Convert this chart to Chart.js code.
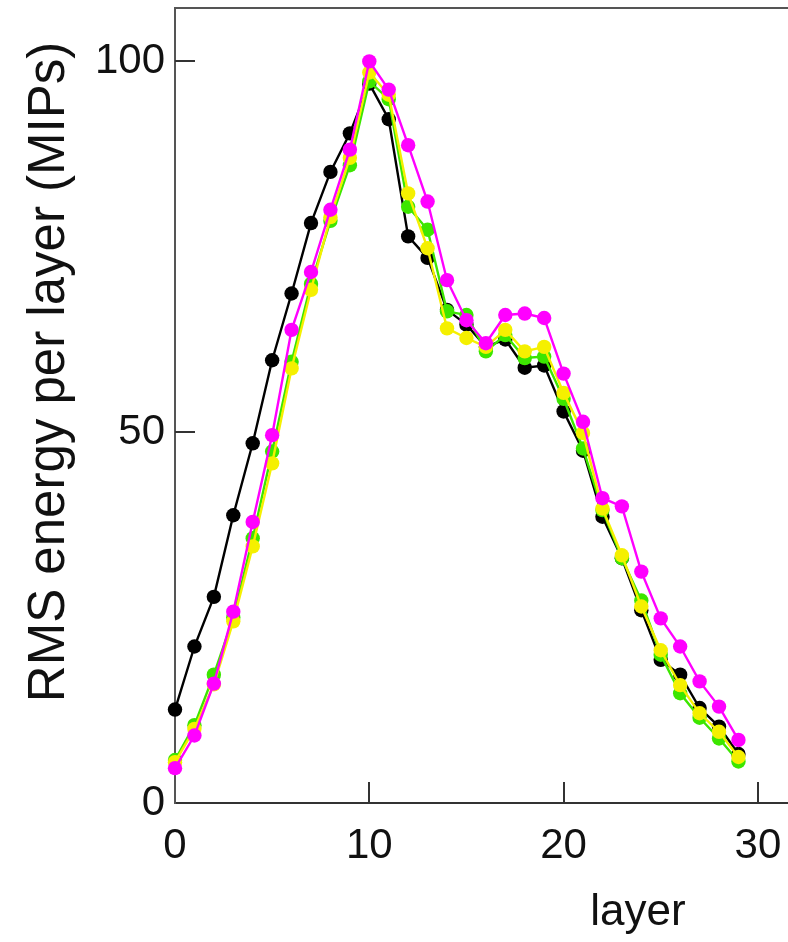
<!DOCTYPE html>
<html>
<head>
<meta charset="utf-8">
<script src="https://cdn.jsdelivr.net/npm/chart.js@4.4.1/dist/chart.umd.min.js"></script>
<style>
  html, body { margin: 0; padding: 0; background: #fff; }
  canvas { display: block; }
</style>
</head>
<body>
<canvas id="rmsChart" width="788" height="942"></canvas>
<script>
// layer numbers
const layers = [0, 1, 2, 3, 4, 5, 6, 7, 8, 9, 10, 11, 12, 13, 14, 15, 16, 17, 18, 19, 20, 21, 22, 23, 24, 25, 26, 27, 28, 29];

// RMS energy per layer (MIPs), one list per curve
const magentaVals = [4.7, 9.1, 16.1, 25.8, 37.9, 49.6, 63.8, 71.6, 80.0, 88.1, 100, 96.2, 88.7, 81.1, 70.5, 65.1, 62.0, 65.8, 66.0, 65.4, 57.9, 51.4, 41.1, 40.0, 31.2, 24.9, 21.1, 16.4, 13.0, 8.5];
const yellowVals = [5.5, 10.0, 16.0, 24.5, 34.6, 45.8, 58.6, 69.2, 79.0, 87.0, 98.5, 95.5, 82.2, 74.8, 64.0, 62.7, 61.5, 63.8, 60.9, 61.5, 55.3, 49.9, 39.7, 33.4, 26.5, 20.6, 15.9, 12.1, 9.6, 6.2];
const greenVals = [5.8, 10.5, 17.3, 25.0, 35.7, 47.4, 59.5, 70.0, 78.5, 86.0, 97.3, 94.9, 80.4, 77.3, 66.3, 65.8, 60.9, 63.1, 60.0, 60.2, 54.5, 47.8, 39.5, 33.0, 27.3, 20.0, 14.8, 11.5, 8.7, 5.6];
const blackVals = [12.6, 21.1, 27.8, 38.8, 48.5, 59.7, 68.7, 78.2, 85.1, 90.3, 97.0, 92.2, 76.4, 73.5, 66.5, 64.5, 61.5, 62.5, 58.7, 59.0, 52.8, 47.5, 38.6, 33.0, 26.0, 19.3, 17.3, 12.8, 10.3, 6.6];

const xTicks = [0, 10, 20, 30];
const yTicks = [0, 50, 100];
const xTitle = "layer";
const yTitle = "RMS energy per layer (MIPs)";

const FONT = "'Liberation Sans', Arial, Helvetica, sans-serif";

function toPoints(vals) {
    return vals.map((v, i) => ({ x: layers[i], y: v }));
}

function makeSet(vals, color) {
    return {
        data: toPoints(vals),
        borderColor: color,
        backgroundColor: color,
        pointBackgroundColor: color,
        pointBorderWidth: 0,
        pointRadius: 7.2,
        borderWidth: 2.4,
        tension: 0,
        clip: false
    };
}

// keep the plot box fixed: no extra room for edge labels
function noPad(s) {
    s.paddingTop = 0;
    s.paddingBottom = 0;
    s.paddingLeft = 0;
    s.paddingRight = 0;
}

// frame top line, inward ticks and the two axis titles
const framePlugin = {
    id: 'frame',
    afterDraw(chart) {
        const { ctx, chartArea, scales } = chart;
        ctx.save();
        ctx.strokeStyle = '#555';
        ctx.lineWidth = 2;
        ctx.beginPath();
        ctx.moveTo(chartArea.left - 1, chartArea.top);
        ctx.lineTo(chartArea.right, chartArea.top);
        ctx.stroke();

        ctx.strokeStyle = '#333';
        ctx.lineWidth = 2;
        ctx.beginPath();
        yTicks.slice(1).forEach(v => {
            const py = Math.round(scales.y.getPixelForValue(v));
            ctx.moveTo(chartArea.left, py);
            ctx.lineTo(chartArea.left + 20, py);
        });
        xTicks.slice(1).forEach(v => {
            const px = Math.round(scales.x.getPixelForValue(v));
            ctx.moveTo(px, chartArea.bottom);
            ctx.lineTo(px, chartArea.bottom - 21);
        });
        ctx.stroke();

        ctx.fillStyle = '#111';
        ctx.font = "44px " + FONT;
        ctx.textAlign = 'center';
        ctx.textBaseline = 'alphabetic';
        ctx.fillText(xTitle, 638, 925);

        ctx.translate(50, 372);
        ctx.rotate(-Math.PI / 2);
        ctx.font = "51px " + FONT;
        ctx.textBaseline = 'middle';
        ctx.fillText(yTitle, 0, 0);
        ctx.restore();
    }
};

const ctx = document.getElementById('rmsChart').getContext('2d');
new Chart(ctx, {
    type: 'line',
    data: {
        datasets: [
            makeSet(magentaVals, '#ff00ff'),
            makeSet(yellowVals, '#f5f000'),
            makeSet(greenVals, '#3ce600'),
            makeSet(blackVals, '#000000')
        ]
    },
    options: {
        responsive: false,
        animation: false,
        devicePixelRatio: 1,
        layout: { autoPadding: false, padding: { top: 8, right: 0, left: 0, bottom: 0 } },
        plugins: { legend: { display: false }, tooltip: { enabled: false } },
        scales: {
            x: {
                type: 'linear',
                min: 0,
                max: 31.55,
                afterFit: s => { s.height = 139; noPad(s); },
                grid: { display: false, drawTicks: false },
                border: { display: true, color: '#333', width: 2 },
                ticks: {
                    stepSize: 10,
                    includeBounds: false,
                    padding: 18,
                    color: '#111',
                    font: { family: FONT, size: 42 },
                    maxRotation: 0
                }
            },
            y: {
                type: 'linear',
                min: 0,
                max: 107.2,
                afterFit: s => { s.width = 175; noPad(s); },
                grid: { display: false, drawTicks: false },
                border: { display: true, color: '#555', width: 2 },
                ticks: {
                    stepSize: 50,
                    includeBounds: false,
                    padding: 10,
                    color: '#111',
                    font: { family: FONT, size: 42 }
                }
            }
        }
    },
    plugins: [framePlugin]
});
</script>
</body>
</html>
